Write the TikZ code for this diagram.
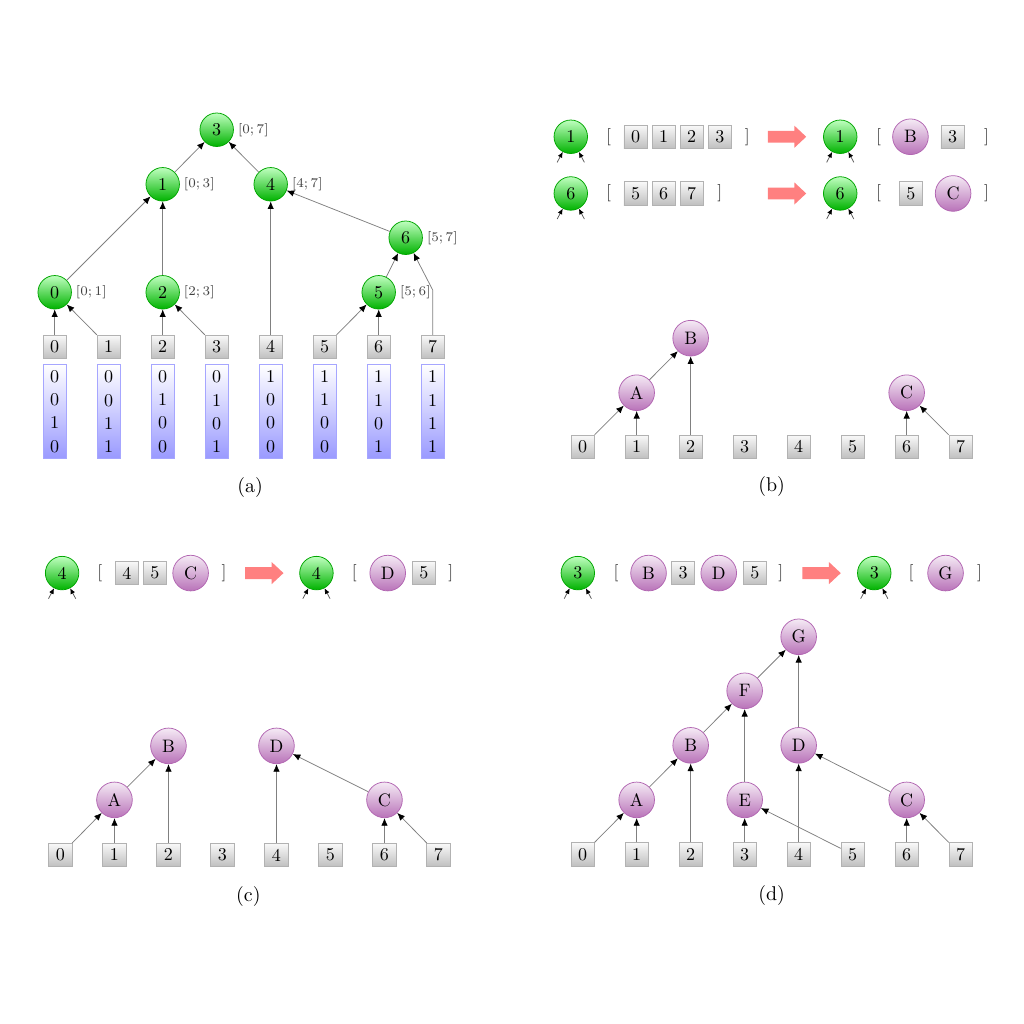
\documentclass[tikz,border=0pt]{standalone}
\usetikzlibrary{arrows.meta,positioning}

% racine verte avec ses deux petites flèches
\newcommand{\racine}[3]{%
  \node[vert] (#1) at (#2) {#3};
  \draw[petit] (#1.-118) -- ++(-118:0.22);
  \draw[petit] (#1.-62) -- ++(-62:0.22);}
% grosse flèche rouge
\newcommand{\fleche}[2]{\fill[red!50] (#1,#2) ++(0,0.11) -- ++(0.49,0) -- ++(0,0.095) -- ++(0.22,-0.205) -- ++(-0.22,-0.205) -- ++(0,0.095) -- ++(-0.49,0) -- cycle;}

\begin{document}
\begin{tikzpicture}[
  noeud/.style={circle, inner sep=0pt, font=\fontsize{9.5}{11}\selectfont},
  vert/.style={noeud, minimum size=0.62cm, draw=green!65!black, top color=green!25, bottom color=green!70!black},
  mauve/.style={noeud, minimum size=0.66cm, draw=violet!60, top color=violet!8, bottom color=violet!55},
  boite/.style={rectangle, inner sep=0pt, minimum size=0.43cm, draw=gray!60, top color=gray!5, bottom color=gray!50, font=\fontsize{9.5}{11}\selectfont},
  binaire/.style={rectangle, inner sep=0pt, minimum width=0.43cm, minimum height=1.74cm, draw=blue!35, top color=white, bottom color=blue!40, align=center, font=\fontsize{9.5}{12.2}\selectfont},
  lien/.style={draw=gray, -{Latex[color=black,length=4pt,width=3.4pt]}},
  petit/.style={draw=gray!70!black, {Latex[color=black,length=3pt,width=2.6pt]}-},
  plage/.style={inner sep=0pt, font=\fontsize{7.5}{9}\selectfont, text=black!75},
  crochet/.style={inner sep=0pt, font=\fontsize{9}{11}\selectfont, text=black!80},
  legende/.style={font=\fontsize{10.5}{12}\selectfont},
]
\useasboundingbox (0,0) rectangle (18.963,18.963);

% (a) : feuilles, codes binaires et arbre
\foreach \i/\b in {0/{0\\0\\1\\0},1/{0\\0\\1\\1},2/{0\\1\\0\\0},3/{0\\1\\0\\1},4/{1\\0\\0\\0},5/{1\\1\\0\\0},6/{1\\1\\0\\1},7/{1\\1\\1\\1}}{
  \node[boite] (fa\i) at ({1.013+\i},12.54) {\i};
  \node[binaire, below=0.1cm of fa\i] (bit\i) {\b};
}
\node[vert] (na0) at (1.013,13.55) {0};
\node[vert] (na1) at (3.013,15.55) {1};
\node[vert] (na2) at (3.013,13.55) {2};
\node[vert] (na3) at (4.013,16.56) {3};
\node[vert] (na4) at (5.013,15.55) {4};
\node[vert] (na5) at (7.013,13.55) {5};
\node[vert] (na6) at (7.513,14.56) {6};
\node[plage, right=2pt of na0] (pa0) {$[0;1]$};
\node[plage, right=2pt of na1] (pa1) {$[0;3]$};
\node[plage, right=2pt of na2] (pa2) {$[2;3]$};
\node[plage, right=2pt of na3] (pa3) {$[0;7]$};
\node[plage, right=2pt of na4] (pa4) {$[4;7]$};
\node[plage, right=2pt of na5] (pa5) {$[5;6]$};
\node[plage, right=2pt of na6] (pa6) {$[5;7]$};
\draw[lien] (fa0) -- (na0);
\draw[lien] (fa1) -- (na0);
\draw[lien] (fa2) -- (na2);
\draw[lien] (fa3) -- (na2);
\draw[lien] (fa4) -- (na4);
\draw[lien] (fa5) -- (na5);
\draw[lien] (fa6) -- (na5);
\draw[lien] (fa7.north) -- ++(0,0.83) -- (na6);
\draw[lien] (na0) -- (na1);
\draw[lien] (na2) -- (na1);
\draw[lien] (na1) -- (na3);
\draw[lien] (na4) -- (na3);
\draw[lien] (na6) -- (na4);
\draw[lien] (na5) -- (na6);
\node[legende] (ca) at (4.63,9.93) {(a)};

% (b) : fusions des racines 1 et 6
\racine{b1v}{10.57,16.43}{1}
\node[crochet] (b1g) at (11.27,16.43) {[};
\node[boite] (b1x0) at (11.77,16.43) {0};
\node[boite] (b1x1) at (12.29,16.43) {1};
\node[boite] (b1x2) at (12.81,16.43) {2};
\node[boite] (b1x3) at (13.33,16.43) {3};
\node[crochet] (b1d) at (13.84,16.43) {]};
\fleche{14.22}{16.43}
\racine{b1w}{15.56,16.43}{1}
\node[crochet] (b1h) at (16.27,16.43) {[};
\node[mauve] (b1B) at (16.86,16.43) {B};
\node[boite] (b1y3) at (17.64,16.43) {3};
\node[crochet] (b1e) at (18.27,16.43) {]};

\racine{b6v}{10.57,15.38}{6}
\node[crochet] (b6g) at (11.27,15.38) {[};
\node[boite] (b6x5) at (11.77,15.38) {5};
\node[boite] (b6x6) at (12.29,15.38) {6};
\node[boite] (b6x7) at (12.81,15.38) {7};
\node[crochet] (b6d) at (13.33,15.38) {]};
\fleche{14.22}{15.38}
\racine{b6w}{15.56,15.38}{6}
\node[crochet] (b6h) at (16.27,15.38) {[};
\node[boite] (b6y5) at (16.87,15.38) {5};
\node[mauve] (b6C) at (17.65,15.38) {C};
\node[crochet] (b6e) at (18.27,15.38) {]};

\foreach \i in {0,...,7}
  \node[boite] (fb\i) at ({10.79+\i},10.69) {\i};
\node[mauve] (bA) at (11.79,11.69) {A};
\node[mauve] (bB) at (12.79,12.70) {B};
\node[mauve] (bC) at (16.79,11.69) {C};
\draw[lien] (fb0) -- (bA);
\draw[lien] (fb1) -- (bA);
\draw[lien] (bA) -- (bB);
\draw[lien] (fb2) -- (bB);
\draw[lien] (fb6) -- (bC);
\draw[lien] (fb7) -- (bC);
\node[legende] (cb) at (14.29,9.95) {(b)};

% (c) : fusion de la racine 4
\racine{c4v}{1.15,8.35}{4}
\node[crochet] (c4g) at (1.85,8.35) {[};
\node[boite] (c4x4) at (2.35,8.35) {4};
\node[boite] (c4x5) at (2.87,8.35) {5};
\node[mauve] (c4C) at (3.53,8.35) {C};
\node[crochet] (c4d) at (4.15,8.35) {]};
\fleche{4.54}{8.35}
\racine{c4w}{5.86,8.35}{4}
\node[crochet] (c4h) at (6.56,8.35) {[};
\node[mauve] (c4D) at (7.18,8.35) {D};
\node[boite] (c4y5) at (7.85,8.35) {5};
\node[crochet] (c4e) at (8.35,8.35) {]};

\foreach \i in {0,...,7}
  \node[boite] (fc\i) at ({1.12+\i},3.13) {\i};
\node[mauve] (cA) at (2.12,4.15) {A};
\node[mauve] (cB) at (3.12,5.15) {B};
\node[mauve] (cD) at (5.12,5.15) {D};
\node[mauve] (cC) at (7.12,4.15) {C};
\draw[lien] (fc0) -- (cA);
\draw[lien] (fc1) -- (cA);
\draw[lien] (cA) -- (cB);
\draw[lien] (fc2) -- (cB);
\draw[lien] (fc4) -- (cD);
\draw[lien] (cC) -- (cD);
\draw[lien] (fc6) -- (cC);
\draw[lien] (fc7) -- (cC);
\node[legende] (cc) at (4.60,2.36) {(c)};

% (d) : fusion de la racine 3
\racine{d3v}{10.70,8.35}{3}
\node[crochet] (d3g) at (11.41,8.35) {[};
\node[mauve] (d3B) at (12.01,8.35) {B};
\node[boite] (d3x3) at (12.65,8.35) {3};
\node[mauve] (d3D) at (13.31,8.35) {D};
\node[boite] (d3x5) at (13.98,8.35) {5};
\node[crochet] (d3d) at (14.46,8.35) {]};
\fleche{14.86}{8.35}
\racine{d3w}{16.19,8.35}{3}
\node[crochet] (d3h) at (16.87,8.35) {[};
\node[mauve] (d3G) at (17.51,8.35) {G};
\node[crochet] (d3e) at (18.14,8.35) {]};

\foreach \i in {0,...,7}
  \node[boite] (fd\i) at ({10.79+\i},3.14) {\i};
\node[mauve] (dA) at (11.79,4.15) {A};
\node[mauve] (dB) at (12.79,5.16) {B};
\node[mauve] (dF) at (13.79,6.17) {F};
\node[mauve] (dG) at (14.79,7.17) {G};
\node[mauve] (dE) at (13.79,4.15) {E};
\node[mauve] (dD) at (14.79,5.16) {D};
\node[mauve] (dC) at (16.79,4.15) {C};
\draw[lien] (fd0) -- (dA);
\draw[lien] (fd1) -- (dA);
\draw[lien] (dA) -- (dB);
\draw[lien] (fd2) -- (dB);
\draw[lien] (dB) -- (dF);
\draw[lien] (dE) -- (dF);
\draw[lien] (dF) -- (dG);
\draw[lien] (fd3) -- (dE);
\draw[lien] (fd5) -- (dE);
\draw[lien] (fd4) -- (dD);
\draw[lien] (dD) -- (dG);
\draw[lien] (dC) -- (dD);
\draw[lien] (fd6) -- (dC);
\draw[lien] (fd7) -- (dC);
\node[legende] (cd) at (14.29,2.37) {(d)};
\end{tikzpicture}
\end{document}
